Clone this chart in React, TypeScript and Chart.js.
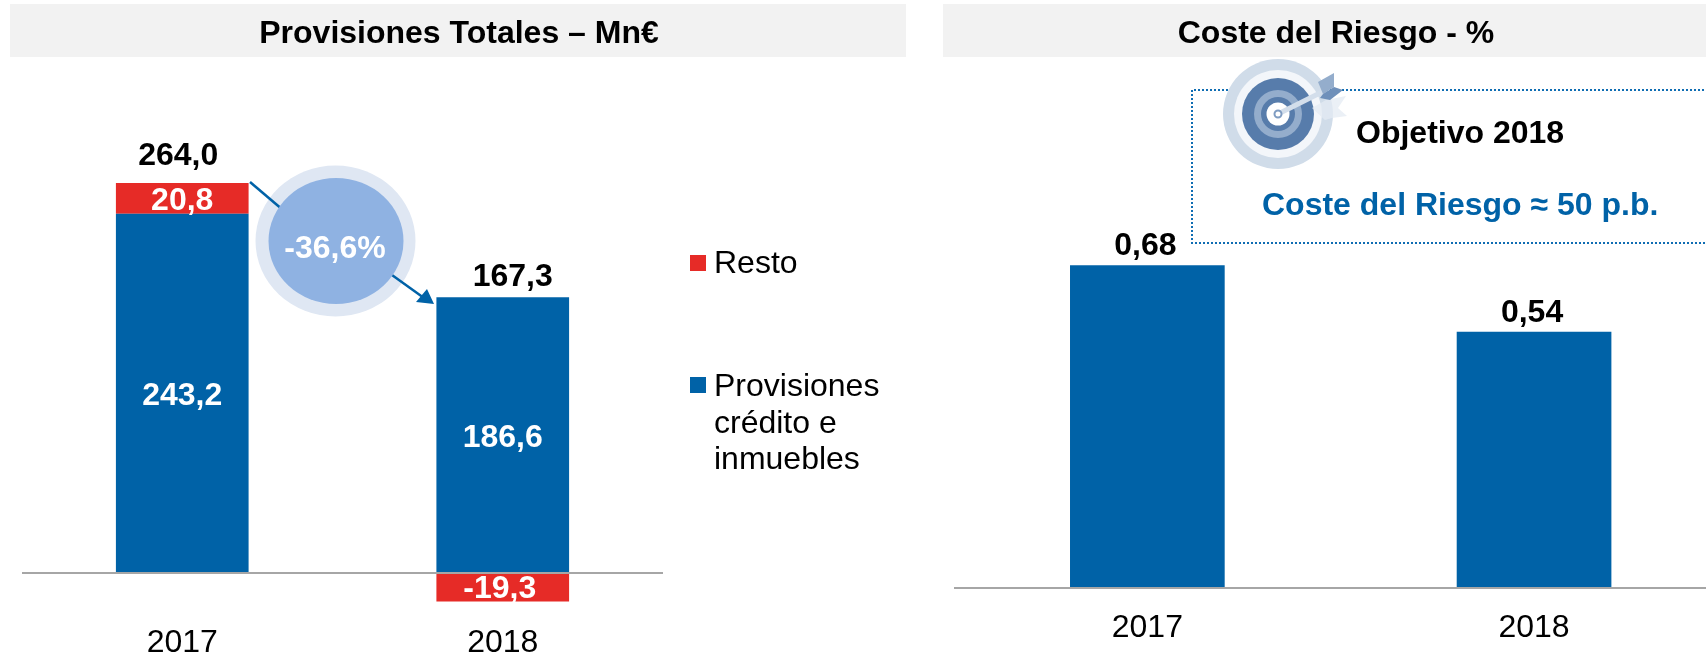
import React, { useEffect, useRef } from "react";
import { Chart, registerables } from "chart.js";

Chart.register(...registerables);

const FONT = '"Liberation Sans", Arial, sans-serif';
const BLUE = "#0062A7";
const RED = "#E62B27";

const years = ["2017", "2018"];
const provisionesName = "Provisiones crédito e inmuebles";
const restoName = "Resto";
const provisiones = [243.2, 186.6];
const resto = [20.8, -19.3];
const totales = [264.0, 167.3];
const coste = [0.68, 0.54];
const variacion = "-36,6%";
const legendLines = ["Provisiones", "crédito e", "inmuebles"];

const fmt = (v: number, d: number) => v.toFixed(d).replace(".", ",");

function labelsPlugin(items: (chart: any) => any[]) {
  return {
    id: "valueLabels",
    afterDatasetsDraw(chart: any) {
      const ctx = chart.ctx;
      ctx.save();
      ctx.textAlign = "center";
      ctx.textBaseline = "alphabetic";
      ctx.font = `bold 32px ${FONT}`;
      for (const it of items(chart)) {
        ctx.fillStyle = it.color;
        ctx.fillText(it.text, it.x, it.y);
      }
      ctx.restore();
    },
  };
}

function baseOptions(min: number, max: number, step: number, padding: any, bottomH: number, tickPad: number): any {
  return {
    animation: false,
    responsive: false,
    layout: { padding },
    plugins: { legend: { display: false }, tooltip: { enabled: false } },
    scales: {
      x: {
        stacked: true,
        border: { display: false },
        grid: { display: false, drawTicks: false },
        afterFit: (s: any) => { s.height = bottomH; },
        ticks: { color: "#000", padding: tickPad, font: { family: FONT, size: 32 } },
      },
      y: {
        stacked: true,
        min,
        max,
        border: { display: false },
        ticks: { display: false, stepSize: step },
        grid: {
          drawTicks: false,
          lineWidth: 2,
          color: (c: any) => (c.tick && c.tick.value === 0 ? "#A6A6A6" : "rgba(0,0,0,0)"),
        },
      },
    },
  };
}

function useChart(make: (canvas: HTMLCanvasElement) => Chart) {
  const ref = useRef<HTMLCanvasElement>(null);
  useEffect(() => {
    const c = make(ref.current!);
    return () => c.destroy();
  }, []);
  return ref;
}

const T = ({ x, y, s = 32, b = false, fill = "#000", a = "start", children }: any) => (
  <text x={x} y={y} fontSize={s} fontWeight={b ? "bold" : "normal"} fill={fill} textAnchor={a} fontFamily={FONT}>
    {children}
  </text>
);

export default function App() {
  const leftRef = useChart((canvas) =>
    new Chart(canvas, {
      type: "bar",
      data: {
        labels: years,
        datasets: [
          { label: provisionesName, data: provisiones, backgroundColor: BLUE, categoryPercentage: 1, barPercentage: 0.414 },
          { label: restoName, data: resto, backgroundColor: RED, categoryPercentage: 1, barPercentage: 0.414 },
        ],
      },
      options: baseOptions(-30, 340, 100, { left: 22, right: 17, top: 70.7, bottom: 0 }, 36.7, 7),
      plugins: [
        labelsPlugin((chart) => {
          const x = chart.scales.x;
          const y = chart.scales.y;
          const px = (i: number) => x.getPixelForValue(i);
          return [
            { text: fmt(totales[0], 1), x: px(0) - 4, y: y.getPixelForValue(totales[0]) - 18, color: "#000" },
            { text: fmt(totales[1], 1), x: px(1) + 10, y: y.getPixelForValue(provisiones[1]) - 11, color: "#000" },
            { text: fmt(resto[0], 1), x: px(0), y: y.getPixelForValue(provisiones[0]) - 4, color: "#fff" },
            { text: fmt(resto[1], 1), x: px(1) - 3, y: y.getPixelForValue(resto[1]) - 3, color: "#fff" },
            { text: fmt(provisiones[0], 1), x: px(0), y: y.getPixelForValue(provisiones[0] / 2) + 12, color: "#fff" },
            { text: fmt(provisiones[1], 1), x: px(1), y: y.getPixelForValue(provisiones[1] / 2) + 12, color: "#fff" },
          ];
        }),
      ],
    } as any)
  );

  const rightRef = useChart((canvas) =>
    new Chart(canvas, {
      type: "bar",
      data: {
        labels: years,
        datasets: [{ label: "Coste del Riesgo", data: coste, backgroundColor: BLUE, categoryPercentage: 1, barPercentage: 0.4 }],
      },
      options: baseOptions(0, 1.1, 1, { left: 14, right: 12.6, top: 588 - 1.1 * 474.6, bottom: 0 }, 66, 21),
      plugins: [
        labelsPlugin((chart) => {
          const x = chart.scales.x;
          const y = chart.scales.y;
          return coste.map((v, i) => ({
            text: fmt(v, 2),
            x: x.getPixelForValue(i) - 2,
            y: y.getPixelForValue(v) - 10,
            color: "#000",
          }));
        }),
      ],
    } as any)
  );

  return (
    <div style={{ position: "fixed", left: 0, top: 0, width: 1706, height: 654, overflow: "hidden", background: "#fff" }}>
      <svg width={1706} height={654} style={{ position: "absolute", left: 0, top: 0 }}>
        <rect x={10} y={4} width={896} height={53} fill="#F2F2F2" />
        <rect x={943} y={4} width={763} height={53} fill="#F2F2F2" />
      </svg>
      <canvas ref={leftRef} width={680} height={654} style={{ position: "absolute", left: 0, top: 0, width: 680, height: 654 }} />
      <canvas ref={rightRef} width={800} height={654} style={{ position: "absolute", left: 940, top: 0, width: 800, height: 654 }} />
      <svg width={1706} height={654} style={{ position: "absolute", left: 0, top: 0 }}>
        <T x={459} y={43} b a="middle">Provisiones Totales – Mn€</T>
        <T x={1336} y={43} b a="middle">Coste del Riesgo - %</T>

        {/* variation bubble */}
        <ellipse cx={335.5} cy={241} rx={80} ry={75.5} fill="#DFE7F3" />
        <line x1={250} y1={182} x2={290} y2={216} stroke={BLUE} strokeWidth={2.5} />
        <line x1={385} y1={270} x2={424} y2={298} stroke={BLUE} strokeWidth={2.5} />
        <polygon points="434,304 416,302 427,289" fill={BLUE} />
        <ellipse cx={336} cy={241} rx={67.5} ry={63} fill="#8FB2E2" />
        <T x={335} y={258} b fill="#fff" a="middle">{variacion}</T>

        {/* legend */}
        <rect x={690} y={255} width={16} height={16} fill={RED} />
        <T x={714} y={273}>{restoName}</T>
        <rect x={690} y={377} width={16} height={16} fill={BLUE} />
        {legendLines.map((l, i) => (
          <T key={l} x={714} y={396 + i * 36.5}>{l}</T>
        ))}

        {/* objective box */}
        <path d="M1720 90 H1192 V243 H1720" fill="none" stroke="#0F6DB3" strokeWidth={2} strokeDasharray="2 2" />
        <circle cx={1278} cy={114} r={55} fill="#D0DCE9" />
        <circle cx={1278} cy={114} r={44} fill="#F3F6FA" />
        <circle cx={1278} cy={114} r={36} fill="#577CAB" />
        <circle cx={1278} cy={114} r={24} fill="#94ADCC" />
        <circle cx={1278} cy={114} r={17} fill="#577CAB" />
        <circle cx={1278} cy={114} r={11.5} fill="#fff" />
        <polygon points="1312,108 1326,100 1346,96 1338,108 1347,116 1332,118 1325,120" fill="#E4EBF3" opacity={0.75} />
        <line x1={1278} y1={114} x2={1322} y2={92} stroke="#D3DEEB" strokeWidth={5} />
        <circle cx={1278} cy={114} r={3.5} fill="#fff" stroke="#7F9CC2" strokeWidth={2} />
        <polygon points="1318,82 1334,73 1334,87 1323,94" fill="#94ADCC" />
        <polygon points="1323,94 1334,87 1343,90 1330,100 1320,98" fill="#6F90BA" />
        <T x={1356} y={143} b>Objetivo 2018</T>
        <T x={1262} y={215} b fill={BLUE}>Coste del Riesgo ≈ 50 p.b.</T>
      </svg>
    </div>
  );
}
